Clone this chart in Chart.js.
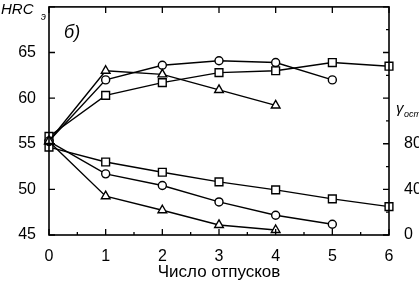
<!DOCTYPE html>
<html>
<head>
<meta charset="utf-8">
<script src="https://cdn.jsdelivr.net/npm/chart.js@4.4.0/dist/chart.umd.min.js"></script>
<style>
  html, body { margin: 0; padding: 0; background: #fff; }
  #wrap { width: 419px; height: 283px; }
</style>
</head>
<body>
<div id="wrap"><canvas id="grafico"></canvas></div>
<script>
// число отпусков
const otpuski = [0, 1, 2, 3, 4, 5, 6];

// твердость HRCэ (левая ось)
const hrcTriangle = [55.3, 63.0, 62.6, 60.9, 59.2];
const hrcCircle = [55.3, 62.0, 63.6, 64.1, 63.9, 62.0];
const hrcSquare = [55.8, 60.3, 61.7, 62.8, 63.0, 63.9, 63.5];

// остаточный аустенит (правая ось)
const gammaTriangle = [82, 34, 21.7, 8.8, 4.4];
const gammaCircle = [82, 53.6, 43.4, 29, 17.3, 9.4];
const gammaSquare = [77, 64, 55, 46.6, 39.6, 31.7, 24.9];

const xTicks = [0, 1, 2, 3, 4, 5, 6];
const hrcTicks = [45, 50, 55, 60, 65];
const gammaTicks = [0, 40, 80];

const FONT = "'Liberation Sans', Arial, sans-serif";

const toPoints = (vals) => vals.map((v, i) => ({x: otpuski[i], y: v}));

const serie = (vals, marker, axis) => ({
  data: toPoints(vals),
  yAxisID: axis,
  borderColor: "#000",
  borderWidth: 1.4,
  backgroundColor: "#fff",
  pointStyle: marker,
  pointRadius: marker == "triangle" ? 5 : (marker == "rect" ? 5.5 : 4),
  pointBorderWidth: 1.4,
  pointBorderColor: "#000",
  pointBackgroundColor: "#fff",
  tension: 0,
  clip: false,
});

const ramka = {
  id: "ramka",
  afterDatasetsDraw(chart) {
    const ctx = chart.ctx;
    const {left, right, top, bottom} = chart.chartArea;
    const sx = chart.scales.x, sl = chart.scales.yL, sr = chart.scales.yR;
    ctx.save();
    ctx.strokeStyle = "#000";
    ctx.lineWidth = 1.6;
    ctx.strokeRect(left, top, right - left, bottom - top);
    ctx.lineWidth = 1.3;
    ctx.beginPath();
    for (let v = 0; v <= 6; v += 0.5) {
      const px = sx.getPixelForValue(v);
      const len = Number.isInteger(v) ? 6 : 3;
      ctx.moveTo(px, bottom); ctx.lineTo(px, bottom - len);
      if (Number.isInteger(v)) { ctx.moveTo(px, top); ctx.lineTo(px, top + len); }
    }
    for (let v = 45; v <= 70; v += 5) {
      const py = sl.getPixelForValue(v);
      ctx.moveTo(left, py); ctx.lineTo(left + 6, py);
    }
    for (let v = 0; v <= 200; v += 20) {
      const py = sr.getPixelForValue(v);
      const len = v % 40 == 0 ? 6 : 3;
      ctx.moveTo(right, py); ctx.lineTo(right - len, py);
    }
    ctx.stroke();

    ctx.fillStyle = "#000";
    ctx.textBaseline = "alphabetic";
    ctx.font = "italic 15px " + FONT;
    ctx.fillText("HRC", 1, 14);
    ctx.font = "italic 10px " + FONT;
    ctx.fillText("э", 41, 20);
    ctx.font = "italic 18px " + FONT;
    ctx.fillText("б)", 64, 38);
    ctx.font = "italic 15px " + FONT;
    ctx.fillText("γ", 396, 113);
    ctx.font = "italic 9px " + FONT;
    ctx.fillText("ост", 404, 117);
    ctx.restore();
  }
};

const noPad = (s) => { s.paddingTop = 0; s.paddingBottom = 0; };

const config = {
  type: "line",
  data: {
    datasets: [
      serie(hrcTriangle, "triangle", "yL"),
      serie(hrcCircle, "circle", "yL"),
      serie(hrcSquare, "rect", "yL"),
      serie(gammaTriangle, "triangle", "yR"),
      serie(gammaCircle, "circle", "yR"),
      serie(gammaSquare, "rect", "yR"),
    ],
  },
  options: {
    responsive: true,
    maintainAspectRatio: false,
    animation: false,
    layout: {padding: {top: 6, left: 0, right: 0, bottom: 0}},
    plugins: {legend: {display: false}, tooltip: {enabled: false}},
    scales: {
      x: {
        type: "linear",
        min: 0, max: 6,
        grid: {display: false},
        border: {display: false},
        ticks: {
          stepSize: 1,
          padding: 4,
          color: "#000",
          font: {family: FONT, size: 16},
          callback: (v) => xTicks.includes(v) ? String(v) : "",
        },
        title: {
          display: true,
          text: "Число отпусков",
          color: "#000",
          font: {family: FONT, size: 17},
          padding: {top: 1, bottom: 0},
        },
        afterFit: (s) => { s.height = 48; s.paddingLeft = 0; s.paddingRight = 0; },
      },
      yL: {
        type: "linear",
        position: "left",
        min: 45, max: 70,
        grid: {display: false},
        border: {display: false},
        ticks: {
          stepSize: 5,
          padding: 5,
          color: "#000",
          font: {family: FONT, size: 16},
          callback: (v) => hrcTicks.includes(v) ? String(v) : "",
        },
        afterFit: (s) => { s.width = 49; noPad(s); },
      },
      yR: {
        type: "linear",
        position: "right",
        min: 0, max: 200,
        grid: {display: false},
        border: {display: false},
        ticks: {
          stepSize: 40,
          padding: 7,
          color: "#000",
          font: {family: FONT, size: 16},
          callback: (v) => gammaTicks.includes(v) ? String(v) : "",
        },
        afterFit: (s) => { s.width = 30; noPad(s); },
      },
    },
  },
  plugins: [ramka],
};

new Chart(document.getElementById("grafico"), config);
</script>
</body>
</html>
